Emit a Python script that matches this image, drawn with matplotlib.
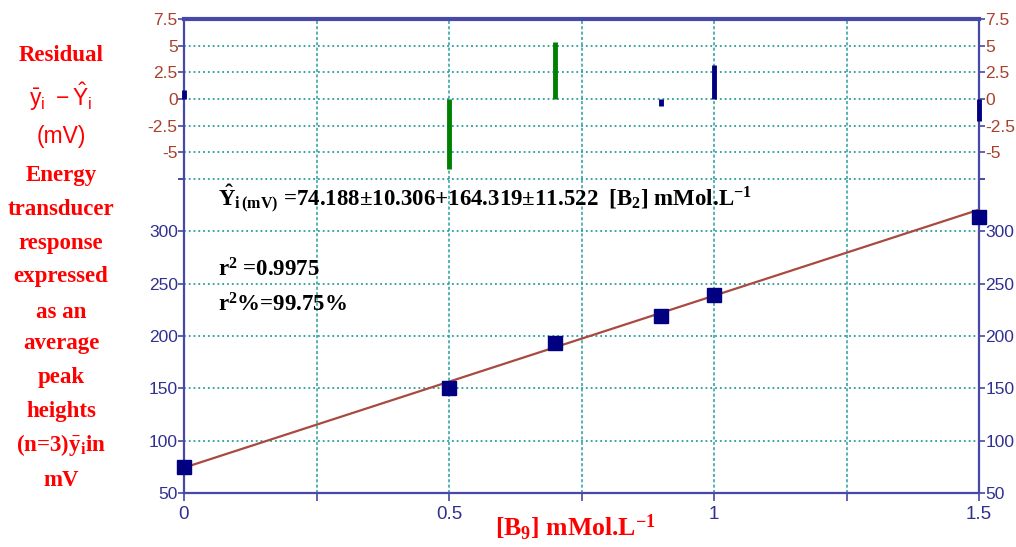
import matplotlib.pyplot as plt
import numpy as np

plt.rcParams['mathtext.fontset'] = 'custom'
plt.rcParams['mathtext.rm'] = 'Liberation Serif:bold'
plt.rcParams['mathtext.it'] = 'Liberation Serif:bold'
plt.rcParams['mathtext.bf'] = 'Liberation Serif:bold'
plt.rcParams['mathtext.sf'] = 'Liberation Sans'

# concentration of B9 (mmol/L) and mean peak heights (mV)
conc = [0, 0.5, 0.7, 0.9, 1.0, 1.5]
peak = [75, 150, 193, 219, 239, 314]
# residuals ybar - Yhat (mV)
resid = [0.8, -6.6, 5.3, -0.7, 3.2, -2.1]
resid_col = ['#000080', 'green', 'green', '#000080', '#000080', '#000080']

intercept = 74.188
slope = 164.319

x_ticks = [0, 0.5, 1, 1.5]
x_labels = ['0', '0.5', '1', '1.5']
res_ticks = [7.5, 5, 2.5, 0, -2.5, -5]
res_labels = ['7.5', '5', '2.5', '0', '-2.5', '-5']
main_ticks = [50, 100, 150, 200, 250, 300]

spine_c = '#4848a8'
grid_c = '#2a9d9d'
res_lab_c = '#a8402c'
main_lab_c = '#303090'

fig = plt.figure(figsize=(10.16, 5.47), dpi=100)
ax_r = fig.add_axes([0.1811, 0.6728, 0.7825, 0.2925])
ax = fig.add_axes([0.1811, 0.0987, 0.7825, 0.5741])

for a in (ax_r, ax):
    a.set_xlim(0, 1.5)
    a.set_xticks(x_ticks)
    a.set_xticks([0.25, 0.75, 1.25], minor=True)
    for s in a.spines.values():
        s.set_color(spine_c)
        s.set_linewidth(1.6)
    a.grid(True, which='both', axis='x', color=grid_c, linestyle=(0, (2, 1.5)), linewidth=1.1)
    a.grid(True, which='major', axis='y', color=grid_c, linestyle=':', linewidth=1.3)
    a.set_axisbelow(True)

# residual panel
ax_r.set_ylim(-7.5, 7.5)
ax_r.set_yticks(res_ticks + [-7.5])
ax_r.set_yticklabels(res_labels + [''])
ax_r.spines['bottom'].set_visible(False)
ax_r.spines['top'].set_linewidth(3)
ax_r.tick_params(axis='x', which='both', length=0, labelbottom=False)
ax_r.tick_params(axis='y', left=True, right=True, labelleft=True, labelright=True,
                 colors=spine_c, labelcolor=res_lab_c, labelsize=12.5, length=4, width=1.2, pad=0.5)
for lab in ax_r.get_yticklabels():
    lab.set_family('Liberation Sans')
ax_r.vlines(conc, 0, resid, colors=resid_col, linewidth=3.5, clip_on=False, zorder=3)

# calibration panel
ax.set_ylim(50, 350)
ax.set_yticks(main_ticks + [350])
ax.set_yticklabels([str(t) for t in main_ticks] + [''])
ax.spines['top'].set_visible(False)
ax.set_xticklabels(x_labels)
ax.tick_params(axis='y', left=True, right=True, labelleft=True, labelright=True,
               colors=spine_c, labelcolor=main_lab_c, labelsize=12.5, length=4, width=1.2, pad=0.5)
ax.tick_params(axis='x', which='both', colors=spine_c, labelcolor=main_lab_c,
               labelsize=13.5, length=6, width=1.2, pad=3)
for lab in ax.get_yticklabels() + ax.get_xticklabels():
    lab.set_family('Liberation Sans')

xl = np.array([0, 1.5])
ax.plot(xl, intercept + slope * xl, color='#a84a40', linewidth=1.6, zorder=3)
ax.plot(conc, peak, 's', color='#000080', markersize=10, clip_on=False, zorder=4)

ax.text(0.064, 331, r'$\hat{Y}_{i\,(mV)}$ =74.188±10.306+164.319±11.522  [B$_2$] mMol.L$^{-1}$',
        fontsize=16.5, fontweight='bold', family='Liberation Serif', va='center')
ax.text(0.064, 263, r'r$^2$ =0.9975', fontsize=16.5, fontweight='bold',
        family='Liberation Serif', va='center')
ax.text(0.064, 230, r'r$^2$%=99.75%', fontsize=16.5, fontweight='bold',
        family='Liberation Serif', va='center')

fig.text(575 / 1016, 1 - 528 / 547, r'[B$_9$] mMol.L$^{-1}$', color='red', fontsize=18.5,
         fontweight='bold', family='Liberation Serif', ha='center', va='center')

# left-hand axis description
left_lines = [('Residual', 55), (r'$\mathsf{\bar{y}_i\ -\hat{Y}_i}$', 97), ('(mV)', 137),
              ('Energy', 175), ('transducer', 209), ('response', 243),
              ('expressed', 277), ('as an', 312), ('average', 344), ('peak', 378),
              ('heights', 411), (r'(n=3)$\bar{y}_i$in', 445), ('mV', 480)]
for txt, py in left_lines:
    sans = txt == '(mV)'
    fig.text(61 / 1016, 1 - py / 547, txt, color='red', fontsize=16.5,
             fontweight='normal' if sans else 'bold',
             family='Liberation Sans' if sans else 'Liberation Serif',
             ha='center', va='center')

fig.savefig('out.png', dpi=100)
